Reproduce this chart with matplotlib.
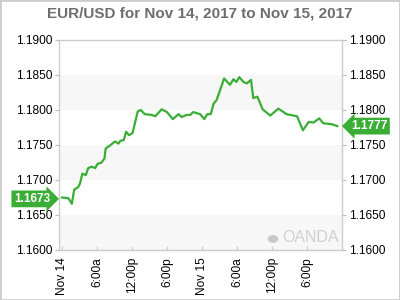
import matplotlib.pyplot as plt
from matplotlib.patches import Rectangle, Circle
from matplotlib.transforms import blended_transform_factory

# hours since Nov 14 00:00 and EUR/USD rate
hours = [0.0, 1.1, 1.7, 2.1, 2.8, 3.1, 3.5, 4.1, 4.5, 5.1, 5.7, 6.1, 6.8, 7.3, 7.5,
         8.2, 9.1, 9.7, 10.0, 10.6, 11.0, 11.5, 12.1, 13.0, 13.5, 14.2, 15.4, 16.0,
         17.1, 18.0, 19.0, 20.0, 20.5, 21.4, 22.0, 22.5, 23.7, 24.4, 24.9, 25.5, 26.0,
         26.5, 27.8, 28.8, 29.4, 29.9, 30.4, 31.1, 31.7, 32.4, 32.8, 33.5, 34.4, 35.7,
         37.1, 38.5, 40.3, 41.3, 42.3, 43.1, 44.1, 44.8, 46.0, 46.5, 47.2]
rates = [1.1675, 1.1674, 1.1666, 1.1686, 1.1690, 1.1695, 1.1709, 1.1707, 1.1717, 1.1719,
         1.1717, 1.1723, 1.1725, 1.1731, 1.1745, 1.1749, 1.1755, 1.1752, 1.1756, 1.1757,
         1.1769, 1.1764, 1.1767, 1.1798, 1.1800, 1.1794, 1.1793, 1.1791, 1.1801, 1.1797,
         1.1787, 1.1794, 1.1790, 1.1793, 1.1793, 1.1797, 1.1794, 1.1787, 1.1794, 1.1794,
         1.1809, 1.1814, 1.1845, 1.1836, 1.1844, 1.1840, 1.1847, 1.1840, 1.1838, 1.1843,
         1.1817, 1.1819, 1.1801, 1.1792, 1.1802, 1.1794, 1.1791, 1.1771, 1.1783, 1.1782,
         1.1788, 1.1781, 1.1780, 1.1779, 1.1777]

tick_hours = [0, 6, 12, 18, 24, 30, 36, 42]
tick_labels = ["Nov 14", "6:00a", "12:00p", "6:00p", "Nov 15", "6:00a", "12:00p", "6:00p"]
y_ticks = [1.160, 1.165, 1.170, 1.175, 1.180, 1.185, 1.190]
bands = [(1.160, 1.165), (1.170, 1.175), (1.180, 1.185)]
open_label = "1.1673"
open_value = 1.1673
last_label = "1.1777"
last_value = 1.1777

green = '#3aad34'
plt.rcParams['font.family'] = ['Liberation Sans', 'DejaVu Sans']

fig = plt.figure(figsize=(4, 3), dpi=100)
ax = fig.add_axes([0.1475, 0.1667, 0.7075, 0.70])

for lo, hi in bands:
    ax.axhspan(lo, hi, color='#f7f7f7', lw=0, zorder=0)

ax.plot(hours, rates, color=green, lw=1.6, zorder=3)

ax.set_xlim(-0.5, 48)
ax.set_ylim(1.16, 1.19)
ax.set_yticks(y_ticks)
ax.set_yticklabels([f"{v:.4f}" for v in y_ticks])
ax.set_xticks(tick_hours)
ax.set_xticklabels(tick_labels, rotation=90)

ax.tick_params(axis='y', which='both', left=True, right=True, labelleft=True, labelright=True,
               direction='out', length=3, color='#bbbbbb', labelsize=8.6, pad=2)
ax.tick_params(axis='x', direction='in', length=3, color='#cccccc', labelsize=8.6, pad=5)
for s in ax.spines.values():
    s.set_color('#cccccc')
    s.set_linewidth(1)

fig.suptitle("EUR/USD for Nov 14, 2017 to Nov 15, 2017", x=0.5, y=0.98,
             fontsize=11, fontweight='bold', color='#6e6e6e')

tr = blended_transform_factory(ax.transAxes, ax.transData)
ax.text(-0.032, open_value, open_label, transform=tr, ha='right', va='center',
        color='white', fontsize=8.6, fontweight='bold', zorder=5, clip_on=False,
        bbox=dict(boxstyle='rarrow,pad=0.2', fc=green, ec='none'))
ax.text(1.032, last_value, last_label, transform=tr, ha='left', va='center',
        color='white', fontsize=8.6, fontweight='bold', zorder=5, clip_on=False,
        bbox=dict(boxstyle='larrow,pad=0.2', fc=green, ec='none'))

# watermark
ax.text(0.79, 0.06, "OANDA", transform=ax.transAxes, fontsize=11.5, color='#d0d0d0',
        ha='left', va='center')
fig.patches.append(Circle((273 / 400, 1 - 239 / 300), 0.013, transform=fig.transFigure,
                          fc='#c8c8c8', ec='none'))

fig.patches.append(Rectangle((0, 0), 1, 1, transform=fig.transFigure, fill=False,
                             ec='#cccccc', lw=2))

fig.savefig('out.png', dpi=100)
